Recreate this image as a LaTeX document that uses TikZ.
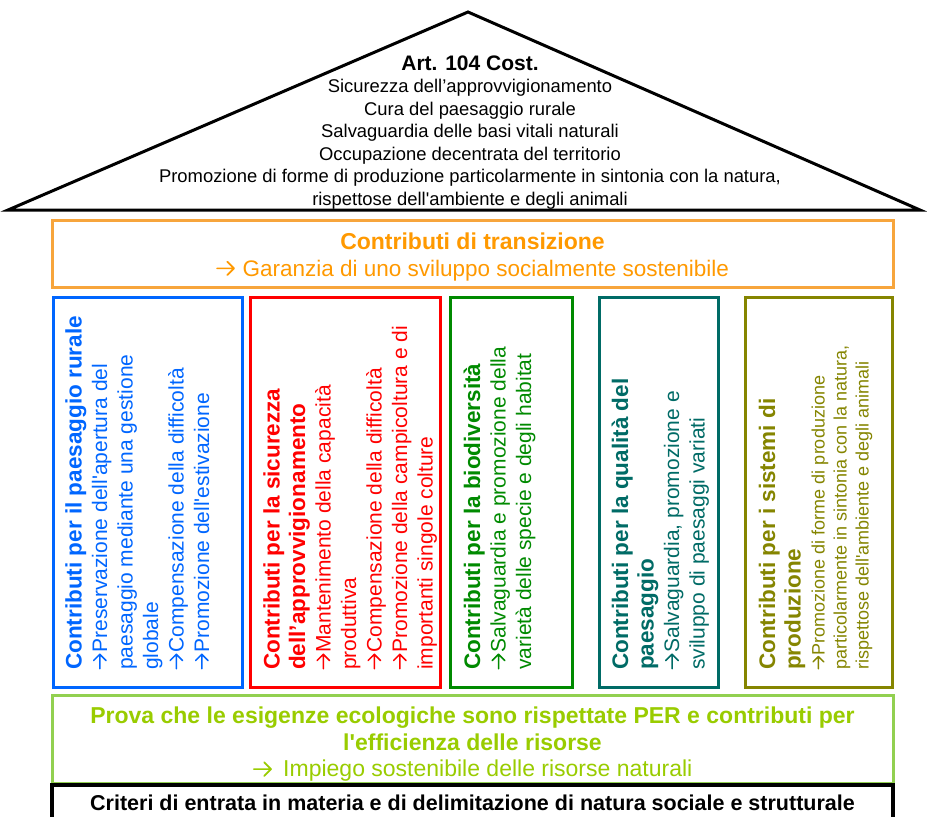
\documentclass[tikz,border=0pt]{standalone}
\usepackage{fontspec}
\setmainfont{Liberation Sans}[Ligatures=TeXOff]
\newcommand{\arr}[1][0.74]{\tikz[baseline=0pt, x=1em, y=1em, line width=0.075em]{\path (0,0) (#1+0.08,0);\draw[line cap=round, line join=round] (0.05,0.34) -- (#1,0.34) (#1-0.3,0.64) -- (#1,0.34) -- (#1-0.3,0.04);}}
\definecolor{orangeT}{HTML}{FF9900}
\definecolor{orangeB}{HTML}{F7A53C}
\definecolor{blueP}{HTML}{0066FF}
\definecolor{redP}{HTML}{FF0000}
\definecolor{greenP}{HTML}{008A00}
\definecolor{tealP}{HTML}{006B66}
\definecolor{oliveP}{HTML}{858500}
\definecolor{lgreenT}{HTML}{99CC00}
\definecolor{lgreenB}{HTML}{92D050}
\begin{document}
\begin{tikzpicture}[x=1pt,y=-1pt,
  boxstyle/.style={draw, line width=3pt, inner sep=0pt, rectangle},
  pillartext/.style={rotate=90, anchor=north west, inner sep=0pt, align=left,
    font=\fontsize{21}{25.5}\selectfont}
]
\useasboundingbox (0,0) rectangle (927,817);
\clip (0,0) rectangle (927,817);
\fill[white] (0,0) rectangle (927,817);

% roof
\coordinate (rl) at (8,210);
\coordinate (ra) at (468,12);
\coordinate (rr) at (920,210);
\draw[line width=3pt, line join=miter] (rl) -- (ra) -- (rr) -- cycle;
\node[align=center, inner sep=0pt, font=\fontsize{18.4}{22.5}\selectfont] (rooftxt) at (470,132.5)
 {{\fontsize{21}{22.5}\selectfont\bfseries Art. 104 Cost.}\\
  Sicurezza dell’approvvigionamento\\
  Cura del paesaggio rurale\\
  Salvaguardia delle basi vitali naturali\\
  Occupazione decentrata del territorio\\
  Promozione di forme di produzione particolarmente in sintonia con la natura,\\
  rispettose dell'ambiente e degli animali};

% transition box
\node[boxstyle, draw=orangeB, minimum width=841, minimum height=67, inner sep=0pt] (trans) at (472.5,253.5) {};
\node[text=orangeT, align=center, inner sep=0pt, font=\fontsize{22.5}{27}\selectfont] (transtxt) at (472.5,256.5)
 {{\fontsize{23}{27}\selectfont\bfseries Contributi di transizione}\\\arr[0.8]\hspace{0.3em}Garanzia di uno sviluppo socialmente sostenibile};

% pillars
\node[boxstyle, draw=blueP, minimum width=189, minimum height=390] (p1) at (148,492) {};
\node[boxstyle, draw=redP, minimum width=190, minimum height=390] (p2) at (345,492) {};
\node[boxstyle, draw=greenP, minimum width=122, minimum height=390] (p3) at (511,492) {};
\node[boxstyle, draw=tealP, minimum width=119, minimum height=390] (p4) at (659,492) {};
\node[boxstyle, draw=oliveP, minimum width=147, minimum height=390] (p5) at (818.5,492) {};

\node[pillartext, text=blueP] (t1) at (65,670)
 {{\fontsize{22.5}{25.5}\selectfont\bfseries Contributi per il paesaggio rurale}\\
  \arr Preservazione dell'apertura del\\
  paesaggio mediante una gestione\\
  globale\\
  \arr Compensazione della difficoltà\\
  \arr Promozione dell'estivazione};
\node[pillartext, text=redP] (t2) at (263,670)
 {{\fontsize{22.5}{25.5}\selectfont\bfseries Contributi per la sicurezza}\\
  {\fontsize{22.5}{25.5}\selectfont\bfseries dell’approvvigionamento}\\
  \arr Mantenimento della capacità\\
  produttiva\\
  \arr Compensazione della difficoltà\\
  \arr Promozione della campicoltura e di\\
  importanti singole colture};
\node[pillartext, text=greenP] (t3) at (463.5,670)
 {{\fontsize{22.5}{25.5}\selectfont\bfseries Contributi per la biodiversità}\\
  \arr Salvaguardia e promozione della\\
  varietà delle specie e degli habitat};
\node[pillartext, text=tealP] (t4) at (611.5,670)
 {{\fontsize{22.5}{25.5}\selectfont\bfseries Contributi per la qualità del}\\
  {\fontsize{22.5}{25.5}\selectfont\bfseries paesaggio}\\
  \arr Salvaguardia, promozione e\\
  sviluppo di paesaggi variati};
\node[pillartext, text=oliveP, font=\fontsize{18}{22}\selectfont] (t5) at (758.5,670)
 {{\fontsize{22.5}{25.5}\selectfont\bfseries Contributi per i sistemi di}\\[3.5pt]
  {\fontsize{22.5}{25.5}\selectfont\bfseries produzione}\\[2pt]
  \arr Promozione di forme di produzione\\
  particolarmente in sintonia con la natura,\\
  rispettose dell'ambiente e degli animali};

% ecological box
\node[boxstyle, draw=lgreenB, minimum width=841, minimum height=88] (eco) at (472.5,739) {};
\node[text=lgreenT, align=center, inner sep=0pt, font=\fontsize{23}{26.5}\selectfont] (ecotxt) at (472.5,744.5)
 {{\bfseries Prova che le esigenze ecologiche sono rispettate PER e contributi per}\\
  {\bfseries l'efficienza delle risorse}\\
  \arr[0.8]\hspace{0.45em}Impiego sostenibile delle risorse naturali};

% entry criteria box
\node[boxstyle, draw=black, line width=3.5pt, minimum width=841, minimum height=36,
  font=\fontsize{21.5}{25}\selectfont\bfseries] (crit) at (472.5,803)
 {Criteri di entrata in materia e di delimitazione di natura sociale e strutturale};
\end{tikzpicture}
\end{document}
